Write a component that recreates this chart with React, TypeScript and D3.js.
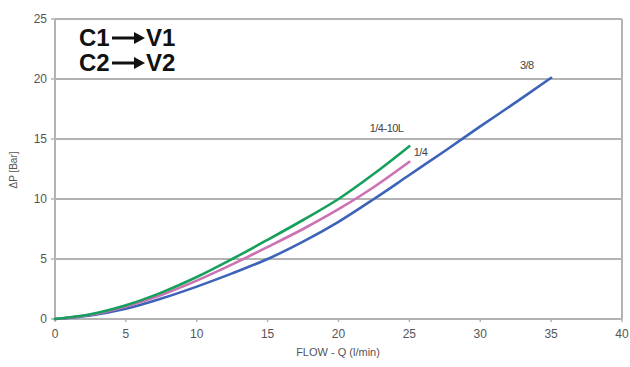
import * as d3 from "d3";
import { useEffect } from "react";

const flow10L = [0, 2.5, 5, 7.5, 10, 12.5, 15, 17.5, 20, 22.5, 25];
const dp10L = [0, 0.4, 1.15, 2.2, 3.5, 5.0, 6.6, 8.25, 10, 12.1, 14.4];

const flow14 = [0, 2.5, 5, 7.5, 10, 12.5, 15, 17.5, 20, 22.5, 25];
const dp14 = [0, 0.35, 1.05, 2.0, 3.2, 4.55, 6.0, 7.5, 9.15, 11.0, 13.1];

const flow38 = [0, 2.5, 5, 7.5, 10, 12.5, 15, 17.5, 20, 22.5, 25, 27.5, 30, 32.5, 35];
const dp38 = [0, 0.3, 0.85, 1.7, 2.7, 3.8, 5, 6.45, 8.1, 10.0, 12.0, 14.0, 16.05, 18.05, 20.1];

const xTicks = [0, 5, 10, 15, 20, 25, 30, 35, 40];
const yTicks = [0, 5, 10, 15, 20, 25];

const series = [
  { name: "3/8", x: flow38, y: dp38, color: "#3d63b9", lx: 32.8, ly: 20.8 },
  { name: "1/4", x: flow14, y: dp14, color: "#cc72b3", lx: 25.3, ly: 13.6 },
  { name: "1/4-10L", x: flow10L, y: dp10L, color: "#16a05c", lx: 22.2, ly: 15.6 },
];

const width = 630;
const height = 367;
const m = { top: 19, right: 8, bottom: 48, left: 55 };

export default function App() {
  useEffect(() => {
    document.body.style.margin = "0";
  }, []);

  const x = d3.scaleLinear().domain([0, 40]).range([m.left, width - m.right]);
  const y = d3.scaleLinear().domain([0, 25]).range([height - m.bottom, m.top]);

  const line = d3
    .line<[number, number]>()
    .x(d => x(d[0]))
    .y(d => y(d[1]))
    .curve(d3.curveCatmullRom);

  const font = "'Liberation Sans', Arial, sans-serif";
  const grid = "#b3b3b3";
  const head = "'Liberation Sans', sans-serif";

  return (
    <svg width={width} height={height} style={{ display: "block", background: "#fff" }}>
      {/* gridlines */}
      {yTicks.filter(t => t > 0).map(t => (
        <line key={t} x1={x(0)} x2={x(40)} y1={y(t)} y2={y(t)} stroke={grid} strokeWidth={2} />
      ))}
      <line x1={x(0)} x2={x(40)} y1={y(0)} y2={y(0)} stroke={grid} strokeWidth={2} />
      <line x1={x(0)} x2={x(0)} y1={y(0)} y2={y(25)} stroke={grid} strokeWidth={2} />
      <line x1={x(40)} x2={x(40)} y1={y(0)} y2={y(25)} stroke={grid} strokeWidth={2} />

      {/* ticks */}
      {xTicks.map(t => (
        <g key={t}>
          <line x1={x(t)} x2={x(t)} y1={y(0)} y2={y(0) + 3} stroke={grid} strokeWidth={1.5} />
          <text x={x(t)} y={y(0) + 19} textAnchor="middle" fontSize={12} fill="#555" fontFamily={font}>
            {t}
          </text>
        </g>
      ))}
      {yTicks.map(t => (
        <g key={t}>
          <line x1={x(0) - 4} x2={x(0)} y1={y(t)} y2={y(t)} stroke={grid} strokeWidth={1.5} />
          <text x={x(0) - 8} y={y(t) + 4} textAnchor="end" fontSize={12} fill="#555" fontFamily={font}>
            {t}
          </text>
        </g>
      ))}

      {/* axis titles */}
      <text x={338} y={356} textAnchor="middle" fontSize={11} fill="#555" fontFamily={font}>
        FLOW - Q (l/min)
      </text>
      <text
        transform="translate(17,170) rotate(-90)"
        textAnchor="middle"
        fontSize={10}
        fill="#555"
        fontFamily={font}
      >
        ΔP [Bar]
      </text>

      {/* curves */}
      {series.map(s => (
        <path
          key={s.name}
          d={line(s.x.map((v, i) => [v, s.y[i]] as [number, number])) || ""}
          fill="none"
          stroke={s.color}
          strokeWidth={2.6}
          strokeLinecap="round"
        />
      ))}
      {series.map(s => (
        <text key={s.name} x={x(s.lx)} y={y(s.ly)} fontSize={11} fill="#444" fontFamily={font} letterSpacing={-0.5}>
          {s.name}
        </text>
      ))}

      {/* header */}
      {["C1", "C2"].map((c, i) => (
        <g key={c} transform={`translate(79,${46 + i * 25})`} fill="#111" fontFamily={head} fontWeight="bold" fontSize={24}>
          <text x={0} y={0}>{c}</text>
          <line x1={33} x2={58} y1={-8} y2={-8} stroke="#111" strokeWidth={3} />
          <path d="M55,-14 L66,-8 L55,-2 Z" fill="#111" />
          <text x={67} y={0}>{"V" + (i + 1)}</text>
        </g>
      ))}
    </svg>
  );
}
